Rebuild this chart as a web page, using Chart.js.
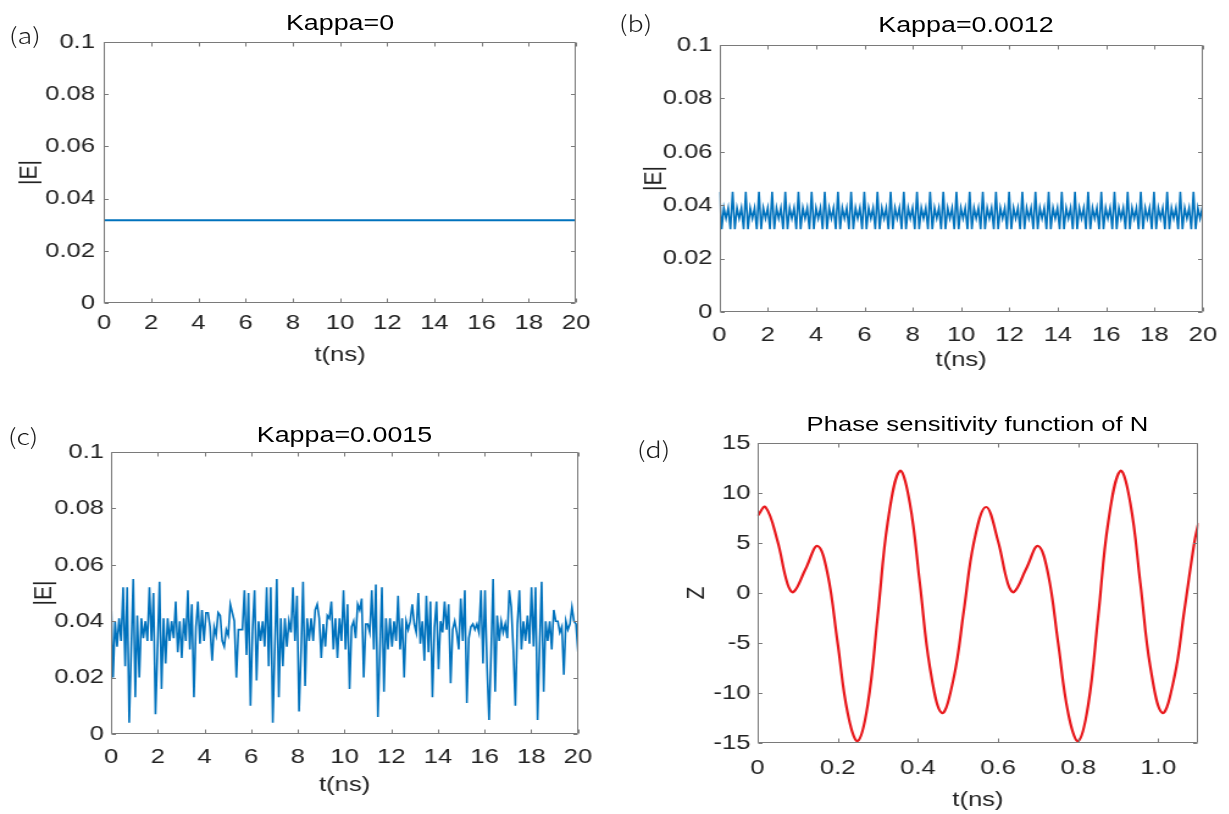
<!DOCTYPE html>
<html>
<head>
<meta charset="utf-8">
<title>Kappa panels</title>
<script src="https://cdn.jsdelivr.net/npm/chart.js@4.4.1/dist/chart.umd.min.js"></script>
<style>
  html, body { margin: 0; padding: 0; background: #fff; }
  body { width: 1229px; height: 814px; overflow: hidden; position: relative; }
  /* the original figure is stretched sideways, so the whole figure is drawn narrow and scaled */
  #fig { position: absolute; left: 0; top: 0; width: 1008px; height: 814px; transform-origin: 0 0; transform: scaleX(1.22); }
  #fig canvas { position: absolute; }
  .ttl { position: absolute; width: 400px; height: 30px; line-height: 30px; text-align: center; white-space: nowrap;
         font-family: "Liberation Sans", Arial, sans-serif; font-size: 22px; color: #000; }
  .lbl { position: absolute; height: 30px; line-height: 30px; white-space: nowrap;
         font-family: "Noto Sans CJK JP", "Noto Sans", sans-serif; font-weight: 300; font-size: 22px; color: #1a1a1a; }
</style>
</head>
<body>
<div id="fig">
  <canvas id="chartA"></canvas>
  <canvas id="chartB"></canvas>
  <canvas id="chartC"></canvas>
  <canvas id="chartD"></canvas>
</div>
<script>
// ---- data ----
const xTicksT = [0, 2, 4, 6, 8, 10, 12, 14, 16, 18, 20];
const xLabelsT = ['0', '2', '4', '6', '8', '10', '12', '14', '16', '18', '20'];
const yTicksE = [0, 0.02, 0.04, 0.06, 0.08, 0.1];
const yLabelsE = ['0', '0.02', '0.04', '0.06', '0.08', '0.1'];

// (a) Kappa=0 : constant amplitude
const tA = [0, 20];
const eA = [0.0317, 0.0317];

// (b) Kappa=0.0012 : periodic, one sample every ~0.091 ns
const dtB = 0.0908;
const eB = [
  0.045,0.031,0.039,0.035,0.039,0.031, 0.045,0.031,0.039,0.035,0.039,0.031,
  0.045,0.031,0.039,0.035,0.039,0.031, 0.045,0.031,0.039,0.035,0.039,0.031,
  0.045,0.031,0.039,0.035,0.039,0.031, 0.045,0.031,0.039,0.035,0.039,0.031,
  0.045,0.031,0.039,0.035,0.039,0.031, 0.045,0.031,0.039,0.035,0.039,0.031,
  0.045,0.031,0.039,0.035,0.039,0.031, 0.045,0.031,0.039,0.035,0.039,0.031,
  0.045,0.031,0.039,0.035,0.039,0.031, 0.045,0.031,0.039,0.035,0.039,0.031,
  0.045,0.031,0.039,0.035,0.039,0.031, 0.045,0.031,0.039,0.035,0.039,0.031,
  0.045,0.031,0.039,0.035,0.039,0.031, 0.045,0.031,0.039,0.035,0.039,0.031,
  0.045,0.031,0.039,0.035,0.039,0.031, 0.045,0.031,0.039,0.035,0.039,0.031,
  0.045,0.031,0.039,0.035,0.039,0.031, 0.045,0.031,0.039,0.035,0.039,0.031,
  0.045,0.031,0.039,0.035,0.039,0.031, 0.045,0.031,0.039,0.035,0.039,0.031,
  0.045,0.031,0.039,0.035,0.039,0.031, 0.045,0.031,0.039,0.035,0.039,0.031,
  0.045,0.031,0.039,0.035,0.039,0.031, 0.045,0.031,0.039,0.035,0.039,0.031,
  0.045,0.031,0.039,0.035,0.039,0.031, 0.045,0.031,0.039,0.035,0.039,0.031,
  0.045,0.031,0.039,0.035,0.039,0.031, 0.045,0.031,0.039,0.035,0.039,0.031,
  0.045,0.031,0.039,0.035,0.039,0.031, 0.045,0.031,0.039,0.035,0.039,0.031,
  0.045,0.031,0.039,0.035,0.039,0.031, 0.045,0.031,0.039,0.035,0.039,0.031,
  0.045,0.031,0.039,0.035,0.039,0.031, 0.045,0.031,0.039,0.035,0.039,0.031,
  0.045,0.031,0.039,0.035,0.039,0.031
];

// (c) Kappa=0.0015 : irregular, 232 samples over 0..20 ns
const eC = [
  0.048,0.020,0.040,0.031,0.041,0.033,0.052,0.024,0.052,0.004,
  0.030,0.055,0.013,0.042,0.020,0.041,0.034,0.040,0.033,0.052,
  0.033,0.050,0.007,0.030,0.054,0.016,0.041,0.025,0.041,0.033,
  0.040,0.034,0.047,0.029,0.040,0.027,0.041,0.033,0.051,0.030,
  0.046,0.013,0.038,0.047,0.032,0.044,0.033,0.043,0.043,0.038,
  0.026,0.038,0.035,0.043,0.042,0.033,0.031,0.037,0.035,0.046,
  0.043,0.040,0.020,0.037,0.037,0.037,0.051,0.028,0.050,0.010,
  0.037,0.051,0.019,0.040,0.033,0.040,0.031,
  0.052,0.024,0.052,0.004,0.030,0.055,0.013,0.041,0.024,0.041,
  0.031,0.040,0.036,0.052,0.033,0.049,0.008,0.029,0.054,0.017,
  0.041,0.033,0.041,0.033,0.044,0.046,0.041,0.027,0.039,0.031,
  0.042,0.041,0.047,0.030,0.041,0.027,0.041,0.033,0.051,0.030,
  0.046,0.016,0.038,0.040,0.034,0.046,0.044,0.048,0.020,0.039,
  0.039,0.036,0.051,0.030,0.053,0.006,0.029,0.052,0.015,0.041,
  0.030,0.041,0.031,0.040,0.033,0.049,0.030,0.041,0.020,0.040,
  0.037,0.040,0.046,0.039,0.036,0.050,0.032,0.040,0.026,
  0.049,0.029,0.047,0.013,0.038,0.047,0.023,0.040,0.036,0.047,
  0.037,0.046,0.018,0.037,0.040,0.036,0.030,0.048,0.033,0.051,
  0.011,0.034,0.038,0.039,0.037,0.039,0.036,0.051,0.025,0.051,
  0.024,0.005,0.029,0.055,0.015,0.042,0.033,0.040,0.036,0.039,
  0.034,0.051,0.045,0.030,0.010,0.039,0.051,0.030,0.040,0.033,
  0.042,0.032,0.052,0.031,0.052,0.005,0.031,0.054,0.015,0.040,
  0.033,0.040,0.030,0.044,0.040,0.040,0.036,0.038,0.021,0.040,
  0.037,0.039,0.045,0.040,0.039,0.029
];

// (d) phase sensitivity function of N
const tD = [0, 0.02, 0.05, 0.075, 0.09, 0.12, 0.15, 0.175, 0.2, 0.225, 0.25, 0.275, 0.3, 0.325, 0.355,
  0.38, 0.405, 0.43, 0.46, 0.49, 0.515, 0.54, 0.57, 0.6, 0.625, 0.64, 0.67, 0.7, 0.725, 0.75,
  0.775, 0.8, 0.825, 0.85, 0.875, 0.905, 0.93, 0.955, 0.98, 1.01, 1.04, 1.065, 1.09, 1.1];
const zD = [7.7, 8.6, 5.2, 0.9, 0.1, 2.4, 4.7, 1.9, -5.0, -12.0, -14.8, -11.2, -2.3, 7.1, 12.2,
  9.0, 1.0, -7.4, -12.0, -8.4, -1.7, 5.1, 8.6, 5.2, 0.9, 0.1, 2.4, 4.7, 1.9, -5.0,
  -12.0, -14.8, -11.2, -2.3, 7.1, 12.2, 9.0, 1.0, -7.4, -12.0, -8.4, -1.7, 5.1, 7.0];
const xTicksD = [0, 0.2, 0.4, 0.6, 0.8, 1.0];
const xLabelsD = ['0', '0.2', '0.4', '0.6', '0.8', '1.0'];
const yTicksZ = [-15, -10, -5, 0, 5, 10, 15];
const yLabelsZ = ['-15', '-10', '-5', '0', '5', '10', '15'];

const titles = ['Kappa=0', 'Kappa=0.0012', 'Kappa=0.0015', 'Phase sensitivity function of N'];
const letters = ['(a)', '(b)', '(c)', '(d)'];

// ---- layout ----
const SX = 1.22;
const FONT = '"Liberation Sans", Arial, Helvetica, sans-serif';
const BLUE = '#0072BD';
const RED = '#e8181c';
const TEXT = '#222';

function pairs(xs, ys) {
  return ys.map((v, i) => ({ x: xs[i], y: v }));
}

// draws the MATLAB style box with inward ticks on all four sides
const axisBox = {
  id: 'axisBox',
  afterDatasetsDraw(chart) {
    const { ctx, chartArea: a, scales: { x, y } } = chart;
    const L = Math.round(a.left) + 0.5, R = Math.round(a.right) - 0.5;
    const T = Math.round(a.top) + 0.5, B = Math.round(a.bottom) - 0.5;
    ctx.save();
    ctx.strokeStyle = '#7a7a7a';
    ctx.lineWidth = 1;
    ctx.beginPath();
    ctx.rect(L, T, R - L, B - T);
    x.ticks.forEach(t => {
      const px = Math.round(x.getPixelForValue(t.value)) + 0.5;
      ctx.moveTo(px, B); ctx.lineTo(px, B - 4);
      ctx.moveTo(px, T); ctx.lineTo(px, T + 4);
    });
    y.ticks.forEach(t => {
      const py = Math.round(y.getPixelForValue(t.value)) + 0.5;
      ctx.moveTo(L, py); ctx.lineTo(L + 3.5, py);
      ctx.moveTo(R, py); ctx.lineTo(R - 3.5, py);
    });
    ctx.stroke();
    ctx.restore();
  }
};

function makePanel(p) {
  const cv = document.getElementById(p.id);
  const w = Math.round((p.box.x1 - p.box.x0) / SX);
  const h = p.box.y1 - p.box.y0;
  cv.width = w;
  cv.height = h;
  cv.style.left = (p.box.x0 / SX) + 'px';
  cv.style.top = p.box.y0 + 'px';

  const yW = (p.plot.l - p.box.x0) / SX;
  const xH = p.box.y1 - p.plot.b;
  const padRight = w - (p.plot.r - p.box.x0) / SX;

  new Chart(cv, {
    type: 'line',
    data: {
      datasets: [{
        data: p.points,
        borderColor: p.color,
        borderWidth: p.width,
        pointRadius: 0,
        fill: false,
        tension: p.tension || 0
      }]
    },
    options: {
      responsive: false,
      animation: false,
      events: [],
      layout: { padding: { left: 0, top: p.plot.t - p.box.y0, right: padRight, bottom: 0 } },
      plugins: { legend: { display: false }, tooltip: { enabled: false }, title: { display: false } },
      scales: {
        x: {
          type: 'linear', min: p.xMin, max: p.xMax,
          afterBuildTicks: s => { s.ticks = p.xTicks.map(v => ({ value: v })); },
          afterFit: s => { s.height = xH; },
          grid: { display: false, drawTicks: false },
          border: { display: false },
          ticks: { autoSkip: false, maxRotation: 0, padding: p.xTickPad, color: TEXT,
                   font: { family: FONT, size: 21 }, callback: (v, i) => p.xLabels[i] },
          title: { display: true, text: 't(ns)', color: TEXT, font: { family: FONT, size: 21 },
                   padding: { top: 0, bottom: p.xTitlePad } }
        },
        y: {
          type: 'linear', min: p.yMin, max: p.yMax,
          afterBuildTicks: s => { s.ticks = p.yTicks.map(v => ({ value: v })); },
          afterFit: s => { s.width = yW; },
          grid: { display: false, drawTicks: false },
          border: { display: false },
          ticks: { autoSkip: false, padding: p.yTickPad, color: TEXT,
                   font: { family: FONT, size: 21 }, callback: (v, i) => p.yLabels[i] },
          title: { display: true, text: p.yTitle, color: TEXT, font: { family: FONT, size: 21 },
                   padding: { top: p.yTitlePad, bottom: 0 } }
        }
      }
    },
    plugins: [axisBox]
  });

  // panel title and letter
  const fig = document.getElementById('fig');
  const t = document.createElement('div');
  t.className = 'ttl';
  t.textContent = p.title;
  t.style.fontSize = p.titleSize + 'px';
  t.style.left = (((p.plot.l + p.plot.r) / 2) / SX - 200) + 'px';
  t.style.top = (p.titleY - 15) + 'px';
  fig.appendChild(t);

  const l = document.createElement('div');
  l.className = 'lbl';
  l.textContent = p.letter;
  l.style.left = (p.letterX / SX) + 'px';
  l.style.top = (p.letterY - 18) + 'px';
  fig.appendChild(l);
}

const tB = eB.map((v, i) => i * dtB);
const tC = eC.map((v, i) => i * 20 / (eC.length - 1));

makePanel({
  id: 'chartA', box: { x0: 0, x1: 610, y0: 0, y1: 395 }, plot: { l: 104, r: 576, t: 42, b: 303 },
  points: pairs(tA, eA), color: BLUE, width: 1.8,
  xMin: 0, xMax: 20, xTicks: xTicksT, xLabels: xLabelsT,
  yMin: 0, yMax: 0.1, yTicks: yTicksE, yLabels: yLabelsE, yTitle: '|E|',
  xTickPad: 7.4, xTitlePad: 27.4, yTickPad: 7.4, yTitlePad: 11.2,
  title: titles[0], titleSize: 22, titleY: 23, letter: letters[0], letterX: 9, letterY: 37
});

makePanel({
  id: 'chartB', box: { x0: 612, x1: 1229, y0: 0, y1: 400 }, plot: { l: 719, r: 1213, t: 45, b: 312 },
  points: pairs(tB, eB), color: BLUE, width: 1.6,
  xMin: 0, xMax: 20, xTicks: xTicksT, xLabels: xLabelsT,
  yMin: 0, yMax: 0.1, yTicks: yTicksE, yLabels: yLabelsE, yTitle: '|E|',
  xTickPad: 10.4, xTitlePad: 27.4, yTickPad: 5.7, yTitlePad: 21.8,
  title: titles[1], titleSize: 22, titleY: 25, letter: letters[1], letterX: 619, letterY: 25
});

makePanel({
  id: 'chartC', box: { x0: 0, x1: 610, y0: 405, y1: 814 }, plot: { l: 111, r: 578, t: 452, b: 734 },
  points: pairs(tC, eC), color: BLUE, width: 1.6,
  xMin: 0, xMax: 20, xTicks: xTicksT, xLabels: xLabelsT,
  yMin: 0, yMax: 0.1, yTicks: yTicksE, yLabels: yLabelsE, yTitle: '|E|',
  xTickPad: 10.4, xTitlePad: 16.4, yTickPad: 5.7, yTitlePad: 23.4,
  title: titles[2], titleSize: 22, titleY: 435, letter: letters[2], letterX: 8, letterY: 438
});

makePanel({
  id: 'chartD', box: { x0: 612, x1: 1229, y0: 405, y1: 814 }, plot: { l: 757, r: 1198, t: 443, b: 743 },
  points: pairs(tD, zD), color: RED, width: 2.2, tension: 0.4,
  xMin: 0, xMax: 1.1, xTicks: xTicksD, xLabels: xLabelsD,
  yMin: -15, yMax: 15, yTicks: yTicksZ, yLabels: yLabelsZ, yTitle: 'Z',
  xTickPad: 12.4, xTitlePad: 1.4, yTickPad: 5.7, yTitlePad: 57.1,
  title: titles[3], titleSize: 21, titleY: 424, letter: letters[3], letterX: 637, letterY: 451
});
</script>
</body>
</html>
